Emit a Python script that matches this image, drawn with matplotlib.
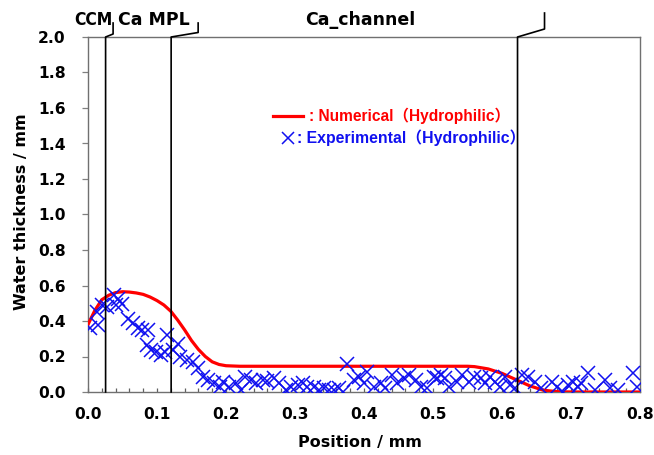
import matplotlib
matplotlib.use("Agg")
import matplotlib.pyplot as plt
from matplotlib.ticker import MultipleLocator

# ---------------- data ----------------
num_x = [0.0, 0.01, 0.02, 0.03, 0.04, 0.05, 0.06, 0.07, 0.08, 0.09, 0.10, 0.11,
         0.12, 0.13, 0.14, 0.15, 0.16, 0.17, 0.18, 0.19, 0.20, 0.22, 0.25, 0.30,
         0.40, 0.50, 0.55, 0.56, 0.58, 0.60, 0.62, 0.64, 0.66, 0.68, 0.70, 0.80]
num_y = [0.38, 0.46, 0.52, 0.545, 0.56, 0.565, 0.563, 0.558, 0.55, 0.535, 0.515, 0.49,
         0.455, 0.405, 0.35, 0.29, 0.24, 0.20, 0.17, 0.155, 0.148, 0.145, 0.145, 0.145,
         0.145, 0.145, 0.145, 0.143, 0.13, 0.105, 0.07, 0.035, 0.01, 0.002, 0.0, 0.0]

exp_x = [0.003, 0.015, 0.0125, 0.020, 0.027, 0.037, 0.044, 0.049, 0.041, 0.058,
         0.065, 0.073, 0.078, 0.087, 0.085, 0.092, 0.099, 0.106, 0.114, 0.111,
         0.123, 0.130, 0.133, 0.143, 0.152, 0.159, 0.167, 0.174, 0.183, 0.191,
         0.195, 0.205, 0.215, 0.222, 0.227, 0.236, 0.244, 0.253, 0.260, 0.270,
         0.277, 0.287, 0.294, 0.304, 0.311, 0.318, 0.328, 0.335, 0.342, 0.349,
         0.357, 0.364, 0.369, 0.376, 0.386, 0.393, 0.405, 0.400, 0.414, 0.424,
         0.431, 0.441, 0.448, 0.458, 0.465, 0.475, 0.482, 0.491, 0.501, 0.506,
         0.511, 0.518, 0.523, 0.535, 0.542, 0.552, 0.559, 0.569, 0.576, 0.583,
         0.590, 0.597, 0.605, 0.612, 0.619, 0.629, 0.638, 0.648, 0.657, 0.672,
         0.679, 0.689, 0.696, 0.703, 0.710, 0.715, 0.725, 0.735, 0.749, 0.756,
         0.768, 0.790, 0.795]
exp_y = [0.358, 0.376, 0.45, 0.489, 0.48, 0.545, 0.526, 0.498, 0.489, 0.414,
         0.386, 0.358, 0.348, 0.348, 0.264, 0.236, 0.226, 0.208, 0.32, 0.226,
         0.236, 0.273, 0.198, 0.18, 0.17, 0.133, 0.086, 0.067, 0.049, 0.03,
         0.058, 0.03, 0.049, 0.011, 0.086, 0.067, 0.049, 0.067, 0.062, 0.077,
         0.049, 0.011, 0.03, 0.039, 0.049, 0.03, 0.03, 0.011, 0.021, 0.011,
         0.011, 0.021, 0.002, 0.157, 0.067, 0.086, 0.114, 0.049, 0.03, 0.049,
         0.021, 0.096, 0.049, 0.077, 0.096, 0.067, 0.03, 0.021, 0.086, 0.077,
         0.096, 0.077, 0.03, 0.058, 0.096, 0.058, 0.086, 0.077, 0.049, 0.086,
         0.058, 0.03, 0.086, 0.039, 0.021, 0.096, 0.086, 0.058, 0.021, 0.058,
         0.03, 0.002, 0.039, 0.058, 0.03, 0.049, 0.105, 0.011, 0.067, 0.021,
         0.011, 0.108, 0.03]

region_x = [0.0255, 0.1205, 0.6225]
region_labels = ["CCM", "Ca MPL", "Ca_channel"]

x_ticks = [0.0, 0.1, 0.2, 0.3, 0.4, 0.5, 0.6, 0.7, 0.8]
y_ticks = [0.0, 0.2, 0.4, 0.6, 0.8, 1.0, 1.2, 1.4, 1.6, 1.8, 2.0]

# ---------------- figure ----------------
W, H = 654, 455
AX_L, AX_R, AX_T, AX_B = 88, 640, 37, 392
fig = plt.figure(figsize=(W / 100, H / 100), dpi=100)
ax = fig.add_axes([AX_L / W, (H - AX_B) / H, (AX_R - AX_L) / W, (AX_B - AX_T) / H])

FONT = ["DejaVu Sans", "Noto Sans CJK JP"]
LFONT = ["Liberation Sans", "Noto Sans CJK JP"]

ax.plot(num_x, num_y, color="#ff0000", lw=2.3, zorder=3)
ax.plot(exp_x, exp_y, linestyle="none", marker="x", color="#1010f0",
        markersize=10, markeredgewidth=1.1, zorder=4)

ax.set_xlim(0, 0.8)
ax.set_ylim(0, 2.0)
ax.set_xticks(x_ticks)
ax.set_yticks(y_ticks)
ax.set_xticklabels([f"{v:.1f}" for v in x_ticks])
ax.set_yticklabels([f"{v:.1f}" for v in y_ticks])
ax.xaxis.set_minor_locator(MultipleLocator(0.02))

for sp in ax.spines.values():
    sp.set_color("#707070")
    sp.set_linewidth(1.0)

ax.tick_params(axis="x", which="both", direction="in", length=3.2,
               color="#606060", width=0.9, pad=11)
ax.tick_params(axis="y", which="major", direction="out", length=4,
               color="#808080", width=0.9, pad=12)
for lab in ax.get_xticklabels() + ax.get_yticklabels():
    lab.set_family(FONT)
    lab.set_fontweight("bold")
    lab.set_fontsize(11.2)

# vertical region boundaries and leaders above the axes
top = 2.0
px_y = 2.0 / (AX_B - AX_T)   # data units per pixel (y)
px_x = 0.8 / (AX_R - AX_L)   # data units per pixel (x)
leaders = [
    (region_x[0], region_x[0] + 7.5 * px_x, 3 * px_y, 14 * px_y),
    (region_x[1], region_x[1] + 27 * px_x, 4.5 * px_y, 14 * px_y),
    (region_x[2], region_x[2] + 27 * px_x, 8 * px_y, 24 * px_y),
]
for (x0, x1, dy1, dy2) in leaders:
    ax.plot([x0, x0, x1, x1], [0, top, top + dy1, top + dy2],
            color="black", lw=1.2, clip_on=False, zorder=5)

label_y = top + 17 * px_y
ax.text(region_x[0] + 6.5 * px_x, label_y, region_labels[0],
        ha="right", va="center", fontsize=12.5, fontweight="bold",
        family=FONT, fontstretch="condensed", clip_on=False)
ax.text((118 - AX_L) * px_x, label_y, region_labels[1],
        ha="left", va="center", fontsize=12.5, fontweight="bold",
        family=FONT, clip_on=False)
ax.text((360 - AX_L) * px_x, label_y, region_labels[2],
        ha="center", va="center", fontsize=12.5, fontweight="bold",
        family=FONT, clip_on=False)

# legend drawn as in the reference
lx0 = (273 - AX_L) * px_x
lx1 = (303 - AX_L) * px_x
ly1 = (AX_B - 116) * px_y
ly2 = (AX_B - 138) * px_y
ax.plot([lx0, lx1], [ly1, ly1], color="#ff0000", lw=2.3)
ax.text((309 - AX_L) * px_x, ly1, ": Numerical（Hydrophilic）", color="#ff0000",
        ha="left", va="center", fontsize=11.2, fontweight="bold", family=LFONT)
ax.plot([(288 - AX_L) * px_x], [ly2], linestyle="none", marker="x",
        color="#1010f0", markersize=9, markeredgewidth=1.1)
ax.text((297 - AX_L) * px_x, ly2, ": Experimental（Hydrophilic）", color="#1010f0",
        ha="left", va="center", fontsize=11.4, fontweight="bold", family=LFONT)

fig.text(360 / W, 1 - 443 / H, "Position / mm", ha="center", va="center",
         fontsize=11.5, fontweight="bold", family=FONT)
fig.text(22 / W, 1 - 212 / H, "Water thickness / mm", ha="center", va="center",
         rotation=90, fontsize=11.5, fontweight="bold", family=FONT)

fig.savefig("out.png", dpi=100)
